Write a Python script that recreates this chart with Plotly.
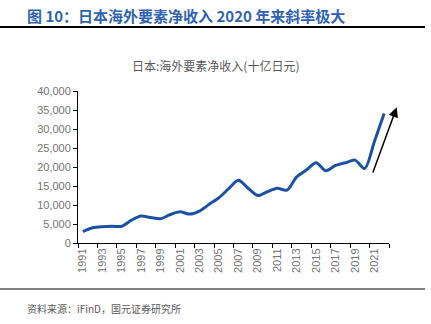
import plotly.graph_objects as go

years = list(range(1991, 2023))
values = [3000, 4000, 4300, 4400, 4400, 6000, 7100, 6700, 6400, 7500, 8200, 7600,
          8400, 10200, 11900, 14300, 16500, 14400, 12500, 13500, 14400, 13900,
          17400, 19200, 21100, 19000, 20400, 21100, 21800, 19600, 26700, 34100]
tick_years = list(range(1991, 2022, 2))
y_ticks = list(range(0, 40001, 5000))

title_text = "<b>图 10：日本海外要素净收入 2020 年来斜率极大</b>"
chart_title = "日本:海外要素净收入(十亿日元)"
source_text = "资料来源：iFinD，国元证券研究所"

fig = go.Figure()
fig.add_trace(go.Scatter(
    x=years, y=values, mode="lines",
    line=dict(color="#1c52a3", width=3, shape="spline", smoothing=0.8),
    hoverinfo="skip", showlegend=False,
))

fig.update_layout(
    width=431, height=324,
    margin=dict(l=78, r=42, t=91, b=81),
    paper_bgcolor="white", plot_bgcolor="white",
    font=dict(family="Liberation Sans, Arial, sans-serif", color="#6f6f6f", size=11),
    xaxis=dict(
        range=[1990.5, 2022.5],
        tickmode="array", tickvals=tick_years, ticktext=[str(y) for y in tick_years],
        tickangle=-90, ticks="", showline=True, linecolor="black", linewidth=1,
        showgrid=False, zeroline=False,
        tickfont=dict(size=11, color="#737373"),
        minor=dict(tickmode="linear", tick0=1990.5, dtick=2, ticks="outside",
                   ticklen=4, tickcolor="black", showgrid=False),
    ),
    yaxis=dict(
        range=[0, 40000], tickmode="array", tickvals=y_ticks,
        ticktext=[f"{v:,}" for v in y_ticks],
        ticks="outside", ticklen=4, tickcolor="black",
        showline=True, linecolor="black", linewidth=1,
        showgrid=False, zeroline=False,
        tickfont=dict(size=11, color="#737373"),
    ),
    annotations=[
        dict(text=title_text, xref="paper", yref="paper",
             x=-78/311, y=(243-15)/152, xanchor="left", yanchor="middle",
             showarrow=False, xshift=25,
             font=dict(family="Noto Sans CJK SC", size=15, color="#2f63ad")),
        dict(text=chart_title, xref="paper", yref="paper",
             x=(215-78)/311, y=(243-65)/152, xanchor="center", yanchor="middle",
             showarrow=False,
             font=dict(family="Noto Sans CJK SC", size=12, color="#595959")),
        dict(text=source_text, xref="paper", yref="paper",
             x=-78/311, y=(243-308)/152, xanchor="left", yanchor="middle",
             showarrow=False, xshift=25,
             font=dict(family="Noto Sans CJK SC", size=10, color="#595959")),
        dict(text="", xref="paper", yref="paper",
             x=(396.7-78)/311, y=(243-107.3)/152,
             ax=-24.4, ay=66.7, showarrow=True,
             arrowhead=2, arrowsize=1.3, arrowwidth=1.5, arrowcolor="black"),
    ],
    shapes=[
        dict(type="line", xref="paper", yref="paper",
             x0=-78/311, x1=(425-78)/311, y0=(243-27)/152, y1=(243-27)/152,
             line=dict(color="black", width=2)),
        dict(type="line", xref="paper", yref="paper",
             x0=-78/311, x1=(425-78)/311, y0=(243-289)/152, y1=(243-289)/152,
             line=dict(color="#555555", width=1.5)),
    ],
)

fig.write_html("out.html")
